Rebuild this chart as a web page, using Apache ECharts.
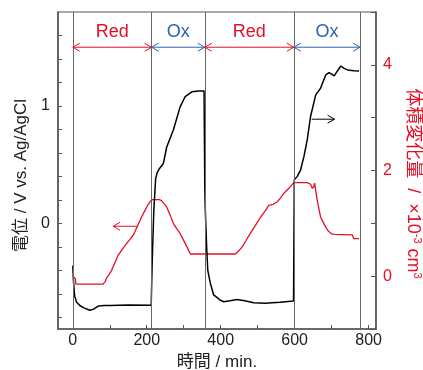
<!DOCTYPE html>
<html>
<head>
<meta charset="utf-8">
<script src="https://cdn.jsdelivr.net/npm/echarts@6/dist/echarts.min.js"></script>
<style>
  html, body { margin: 0; padding: 0; background: #fff; }
  #chart { width: 423px; height: 370px; }
</style>
</head>
<body>
<div id="chart"></div>
<script>
// potential (left axis, V vs Ag/AgCl)
const potTime = [0, 2, 5, 10, 19, 30, 46, 55, 69, 85, 100, 150, 212, 215, 219, 224, 228, 233, 245, 254, 272, 290, 304, 322, 340, 355,
  356, 357, 358, 362, 365, 372, 381, 399, 408, 425, 444, 465, 489, 520, 560, 597, 598, 599, 607, 616, 625, 634, 643, 657, 670,
  684, 693, 700, 707, 716, 725, 734, 743, 760, 774];
const potVal = [-0.36, -0.5, -0.62, -0.67, -0.70, -0.72, -0.74, -0.733, -0.705, -0.70, -0.70, -0.695, -0.697, -0.3, 0.1, 0.38, 0.43, 0.46, 0.51, 0.65, 0.795, 0.99, 1.08, 1.12, 1.128, 1.128,
  1.12, 0.31, 0.15, -0.2, -0.40, -0.51, -0.61, -0.654, -0.668, -0.66, -0.648, -0.66, -0.677, -0.68, -0.672, -0.662, -0.66, 0.37, 0.40, 0.454, 0.568, 0.71, 0.91, 1.094, 1.15,
  1.264, 1.284, 1.27, 1.256, 1.30, 1.34, 1.32, 1.307, 1.30, 1.298];

// volume change (right axis, x10^-3 cm3)
const volTime = [0, 4, 7, 8, 82, 88, 91, 98, 105, 113, 123, 135, 146, 155, 164, 175, 186, 195, 204, 210, 216, 234, 240, 254, 263, 272, 281, 290, 304, 318,
  440, 449, 458, 469, 480, 494, 508, 519, 530, 542, 553, 562, 571, 585, 598, 634, 643, 648, 652, 654, 661, 670, 680, 689, 700, 707, 756, 760, 774];
const volVal = [0, 0, -0.05, -0.15, -0.15, -0.1, -0.04, 0.03, 0.11, 0.24, 0.40, 0.52, 0.62, 0.70, 0.78, 0.95, 1.12, 1.24, 1.36, 1.42, 1.45, 1.45, 1.43, 1.31, 1.16, 1.0, 0.9, 0.81, 0.62, 0.42,
  0.42, 0.48, 0.555, 0.68, 0.81, 0.96, 1.12, 1.22, 1.34, 1.36, 1.41, 1.48, 1.57, 1.67, 1.77, 1.77, 1.74, 1.66, 1.70, 1.76, 1.44, 1.12, 0.98, 0.87, 0.80, 0.79, 0.78, 0.71, 0.71];

// phases
const phaseBounds = [0, 213, 357, 598, 777];
const phaseNames = ['Red', 'Ox', 'Red', 'Ox'];
const phaseArrowLevel = 1.50;

// pointer arrows: [from, to, level(V)]
const pointerArrows = [[174, 109, -0.025], [646, 708, 0.887]];

const xLabels = [0, 200, 400, 600, 800];
const xTicks = [0, 100, 200, 300, 400, 500, 600, 700, 800];
const leftLabels = [0, 1];
const leftTicks = [-0.8, -0.6, -0.4, -0.2, 0, 0.2, 0.4, 0.6, 0.8, 1, 1.2, 1.4, 1.6];

const RED = '#e60f25';
const BLUE = '#2b64b2';
const FONT = '"Liberation Sans", Arial, "Noto Sans CJK JP", sans-serif';

const phaseColor = n => (n === 'Red' ? RED : BLUE);

const arrowData = [];
phaseNames.forEach((n, i) => arrowData.push([phaseBounds[i], phaseBounds[i + 1], phaseArrowLevel, 1, 1, i, n]));
pointerArrows.forEach((a, i) => arrowData.push([a[0], a[1], a[2], 0, 1, -1 - i, '']));

function chevron(p, dir, color) {
  // dir = +1 tip points right, -1 tip points left
  return {
    type: 'polyline',
    shape: { points: [[p[0] - dir * 7, p[1] - 4], [p[0], p[1]], [p[0] - dir * 7, p[1] + 4]] },
    style: { stroke: color, fill: null, lineWidth: 1 }
  };
}

function renderArrow(params, api) {
  const a = api.coord([api.value(0), api.value(2)]);
  const b = api.coord([api.value(1), api.value(2)]);
  const idx = api.value(5);
  const name = arrowData[params.dataIndex][6];
  let color;
  if (idx >= 0) color = phaseColor(name);
  else color = idx === -1 ? RED : '#000';
  const dir = b[0] > a[0] ? 1 : -1;
  const children = [{
    type: 'line',
    shape: { x1: a[0], y1: a[1], x2: b[0], y2: b[1] },
    style: { stroke: color, lineWidth: 1 }
  }];
  if (api.value(3)) children.push(chevron(a, -dir, color));
  if (api.value(4)) children.push(chevron(b, dir, color));
  if (name) {
    children.push({
      type: 'text',
      style: {
        x: (a[0] + b[0]) / 2, y: a[1] - 15, text: name,
        fill: color, font: '18px ' + FONT, align: 'center', verticalAlign: 'middle'
      }
    });
  }
  return { type: 'group', children };
}

const chart = echarts.init(document.getElementById('chart'));
chart.setOption({
  animation: false,
  grid: {
    left: 58, right: 47, top: 12, bottom: 41, outerBoundsMode: 'none', containLabel: false,
    show: true, borderColor: '#555', borderWidth: 1.2
  },
  xAxis: {
    type: 'value', min: -40, max: 820,
    name: '時間 / min.', nameLocation: 'middle', nameGap: 24,
    nameTextStyle: { fontSize: 17, color: '#222', fontFamily: FONT },
    axisLine: { onZero: false, lineStyle: { color: '#555', width: 1.5 } },
    axisTick: { inside: true, length: 4, customValues: xTicks, lineStyle: { color: '#555' } },
    axisLabel: { customValues: xLabels, margin: 4, fontSize: 16, color: '#222', fontFamily: FONT },
    splitLine: { show: false }
  },
  yAxis: [{
    type: 'value', min: -0.9, max: 1.8, position: 'left',
    name: '電位 / V vs. Ag/AgCl', nameLocation: 'middle', nameGap: 27,
    nameTextStyle: { fontSize: 17, color: '#222', fontFamily: FONT, padding: [0, 10, 0, 0] },
    axisLine: { show: true, onZero: false, lineStyle: { color: '#555', width: 1.5 } },
    axisTick: { show: true, inside: true, length: 4, customValues: leftTicks, lineStyle: { color: '#555' } },
    axisLabel: { customValues: leftLabels, margin: 8, fontSize: 16, color: '#222', fontFamily: FONT },
    splitLine: { show: false }
  }, {
    type: 'value', min: -1, max: 5, interval: 1, position: 'right',
    name: '体積変化量  /  ×10{sup|-3} cm{sup|3}', nameLocation: 'middle', nameGap: 27, nameRotate: -90,
    nameTextStyle: {
      fontSize: 18, color: RED, fontFamily: FONT, padding: [0, 0, 0, 26],
      rich: { sup: { fontSize: 11, color: RED, verticalAlign: 'top', padding: [0, 0, 9, 0], fontFamily: FONT } }
    },
    axisLine: { show: true, onZero: false, lineStyle: { color: '#555', width: 1.5 } },
    axisTick: { show: true, inside: true, length: 5, lineStyle: { color: '#555' } },
    axisLabel: {
      margin: 7, fontSize: 16, color: RED, fontFamily: FONT,
      formatter: v => (v >= 0 && v % 2 === 0 ? String(v) : '')
    },
    splitLine: { show: false }
  }],
  series: [{
    type: 'line', yAxisIndex: 1, showSymbol: false,
    data: volTime.map((t, i) => [t, volVal[i]]),
    lineStyle: { color: RED, width: 1.3 }, z: 3
  }, {
    type: 'line', yAxisIndex: 0, showSymbol: false,
    data: potTime.map((t, i) => [t, potVal[i]]),
    lineStyle: { color: '#000', width: 1.5 }, z: 4,
    markLine: {
      silent: true, symbol: 'none', label: { show: false },
      lineStyle: { color: '#666', width: 1, type: 'solid' },
      data: phaseBounds.map(b => ({ xAxis: b }))
    }
  }, {
    type: 'custom', yAxisIndex: 0, renderItem: renderArrow,
    data: arrowData.map(d => d.slice(0, 6)), z: 5, silent: true
  }]
});
</script>
</body>
</html>
